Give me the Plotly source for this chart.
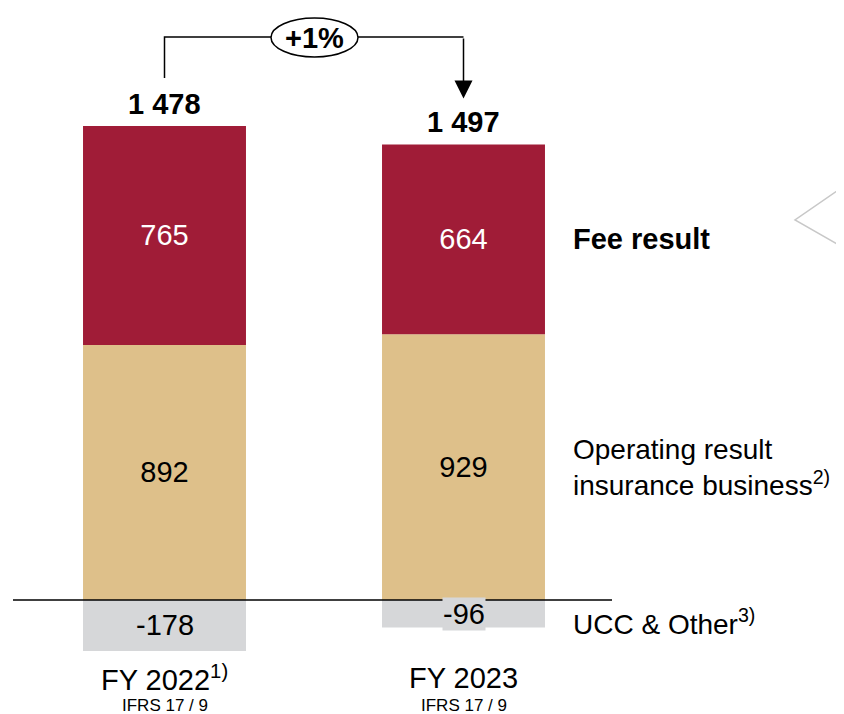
import plotly.graph_objects as go

# ---- data ----
categories = ["FY 2022", "FY 2023"]
cat_labels = ["FY 2022<sup>1)</sup>", "FY 2023"]
sub_labels = ["IFRS 17 / 9", "IFRS 17 / 9"]
ucc_other = [-178, -96]
operating_result = [892, 929]
fee_result = [765, 664]
total_labels = ["1 478", "1 497"]
growth_label = "+1%"
name_ucc = "UCC & Other<sup>3)</sup>"
name_oper = "Operating result<br>insurance business<sup>2)</sup>"
name_fee = "<b>Fee result</b>"

# ---- style ----
RED = "#A01C37"
TAN = "#DEC08A"
GREY = "#D6D7D9"
FONT = "Liberation Sans, Arial, sans-serif"
FS = 29
OFF = 8                 # page body margin
PW, PH = 844, 714       # page size
W, H = PW - OFF, PH - OFF
ZERO_PX = 600           # page pixel row of the zero line
K = 0.286               # pixels per unit
CAT_PX = [164.5, 463.5]
STEP = CAT_PX[1] - CAT_PX[0]

def y_of(px):
    return (ZERO_PX - px) / K

def x_of(px):
    return (px - CAT_PX[0]) / STEP

def xp(px):
    return (px - OFF) / W

def yp(py):
    return 1 - (py - OFF) / H

fig = go.Figure()
fig.add_trace(go.Bar(x=categories, y=ucc_other, marker_color=GREY, width=0.545,
                     marker_line_width=0, name="UCC & Other", hoverinfo="skip"))
fig.add_trace(go.Bar(x=categories, y=operating_result, marker_color=TAN, width=0.545,
                     marker_line_width=0, text=[str(v) for v in operating_result],
                     textposition="inside", insidetextanchor="middle",
                     textfont=dict(color="black", size=FS, family=FONT),
                     name="Operating result", hoverinfo="skip"))
fig.add_trace(go.Bar(x=categories, y=fee_result, marker_color=RED, width=0.545,
                     marker_line_width=0, text=[str(v) for v in fee_result],
                     textposition="inside", insidetextanchor="middle",
                     textfont=dict(color="white", size=FS, family=FONT),
                     name="Fee result", hoverinfo="skip"))

annotations = []
tops = [o + f for o, f in zip(operating_result, fee_result)]

# negative value labels (boxed, above the zero line)
for i, v in enumerate(ucc_other):
    annotations.append(dict(x=i, y=v / 2, xref="x", yref="y", text=str(v), showarrow=False,
                            font=dict(size=FS, color="black", family=FONT),
                            bgcolor=GREY, borderpad=0))

# totals
for i, t in enumerate(tops):
    annotations.append(dict(x=i, y=t, xref="x", yref="y", text="<b>%s</b>" % total_labels[i],
                            showarrow=False, yanchor="bottom", yshift=4,
                            font=dict(size=FS, color="black", family=FONT)))

# category labels
for i in range(len(categories)):
    annotations.append(dict(x=i, y=yp(678), xref="x", yref="paper", text=cat_labels[i],
                            showarrow=False, yanchor="middle",
                            font=dict(size=FS, color="black", family=FONT)))
    annotations.append(dict(x=i, y=yp(705), xref="x", yref="paper", text=sub_labels[i],
                            showarrow=False, yanchor="middle",
                            font=dict(size=17, color="black", family=FONT)))

# series labels at right, aligned with FY 2023 segments
xs = 571 - CAT_PX[1]
annotations.append(dict(x=1, y=operating_result[1] + fee_result[1] / 2, xref="x", yref="y",
                        text=name_fee, showarrow=False, xanchor="left", xshift=xs,
                        font=dict(size=FS, color="black", family=FONT)))
annotations.append(dict(x=1, y=operating_result[1] / 2, xref="x", yref="y",
                        text=name_oper, showarrow=False, xanchor="left", xshift=xs, align="left",
                        font=dict(size=28, color="black", family=FONT)))
annotations.append(dict(x=1, y=ucc_other[1] / 2, xref="x", yref="y", yshift=-8,
                        text=name_ucc, showarrow=False, xanchor="left", xshift=xs,
                        font=dict(size=28, color="black", family=FONT)))

# bracket with growth
yb = y_of(37)
left_bottom = tops[0] + 48 / K
arrow_tip = tops[1] + 46 / K
shapes = [
    dict(type="line", xref="paper", yref="y", x0=xp(13), x1=xp(612), y0=0, y1=0,
         line=dict(color="black", width=1.5)),
    dict(type="path", xref="x", yref="y",
         path="M 0 %f L 0 %f L %f %f" % (left_bottom, yb, x_of(272), yb),
         line=dict(color="black", width=1.5)),
    dict(type="line", xref="x", yref="y", x0=x_of(357), x1=1, y0=yb, y1=yb,
         line=dict(color="black", width=1.5)),
    dict(type="circle", xref="x", yref="y", x0=x_of(271), x1=x_of(358),
         y0=y_of(57), y1=y_of(18), fillcolor="white", line=dict(color="black", width=1.5)),
    # decorative chevron at the right edge
    dict(type="path", xref="paper", yref="paper",
         path="M 1 %f L %f %f L 1 %f" % (yp(186), xp(795), yp(220), yp(248)),
         line=dict(color="#C8C8C8", width=1.5)),
]
annotations.append(dict(x=1, y=arrow_tip, ax=1, ay=yb, xref="x", yref="y", axref="x", ayref="y",
                        text="", showarrow=True, arrowhead=2, arrowsize=2.4, arrowwidth=1.5,
                        arrowcolor="black"))
annotations.append(dict(x=x_of(314.5), y=y_of(38), xref="x", yref="y",
                        text="<b>%s</b>" % growth_label, showarrow=False,
                        font=dict(size=FS, color="black", family=FONT)))

fig.update_layout(
    width=W, height=H, barmode="relative", showlegend=False,
    margin=dict(l=0, r=0, t=0, b=0, pad=0),
    plot_bgcolor="white", paper_bgcolor="white",
    xaxis=dict(range=[x_of(OFF), x_of(PW)], showticklabels=False, showgrid=False,
               zeroline=False, showline=False, ticks=""),
    yaxis=dict(range=[y_of(PH), y_of(OFF)], visible=False, showgrid=False, zeroline=False),
    annotations=annotations, shapes=shapes,
    font=dict(family=FONT),
)
fig.write_html("out.html")
